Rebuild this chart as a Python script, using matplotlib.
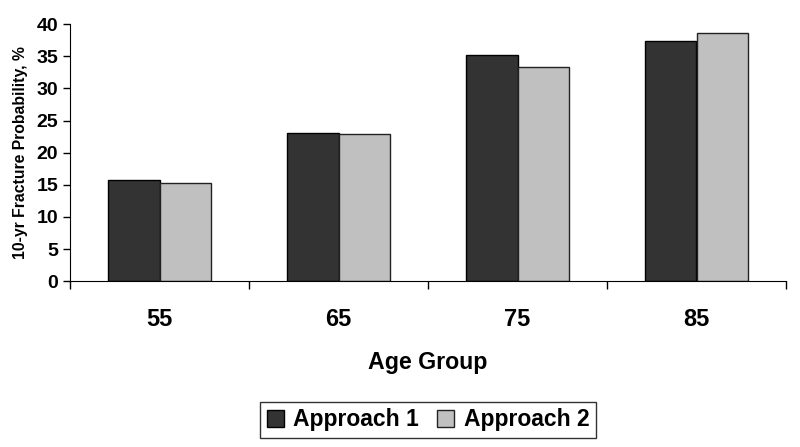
import matplotlib.pyplot as plt
import numpy as np

plt.rcParams['font.family'] = ['Liberation Sans', 'DejaVu Sans']
plt.rcParams['font.weight'] = 'bold'

age_groups = ['55', '65', '75', '85']
approach1 = [15.8, 23.0, 35.2, 37.4]
approach2 = [15.2, 22.9, 33.3, 38.6]

fig = plt.figure(figsize=(8, 4.47), dpi=100)
ax = fig.add_axes([0.0875, 0.371, 0.895, 0.575])

x = np.arange(len(age_groups))
w = 0.29
ax.bar(x - w / 2, approach1, w, color='#333333', edgecolor='black', linewidth=1, label='Approach 1')
ax.bar(x + w / 2, approach2, w, color='#c0c0c0', edgecolor='#222222', linewidth=1, label='Approach 2')

ax.set_xlim(-0.5, len(age_groups) - 0.5)
ax.set_ylim(0, 40)
ax.set_yticks(range(0, 41, 5))
ax.set_xticks(x)
ax.set_xticklabels(age_groups, fontsize=17, fontweight='bold')
ax.set_xticks(np.arange(-0.5, len(age_groups)), minor=True)
ax.tick_params(axis='x', which='major', length=0, pad=19)
ax.tick_params(axis='x', which='minor', length=6, width=1, direction='out')
ax.tick_params(axis='y', labelsize=14, length=5, width=1, direction='out')
for lab in ax.get_yticklabels():
    lab.set_fontweight('bold')

ax.spines['top'].set_visible(False)
ax.spines['right'].set_visible(False)
ax.set_ylabel('10-yr Fracture Probability, %', fontsize=11.3, fontweight='bold', labelpad=6)
ax.set_xlabel('Age Group', fontsize=16.7, fontweight='bold', labelpad=15)

leg = ax.legend(loc='center', bbox_to_anchor=(0.5, -0.54), ncol=2, frameon=True, fancybox=False,
                edgecolor='black', fontsize=16.5, handlelength=0.75, handleheight=0.75,
                handletextpad=0.4, columnspacing=0.8, borderpad=0.3)
leg.get_frame().set_linewidth(1)

fig.savefig('out.png', dpi=100)
